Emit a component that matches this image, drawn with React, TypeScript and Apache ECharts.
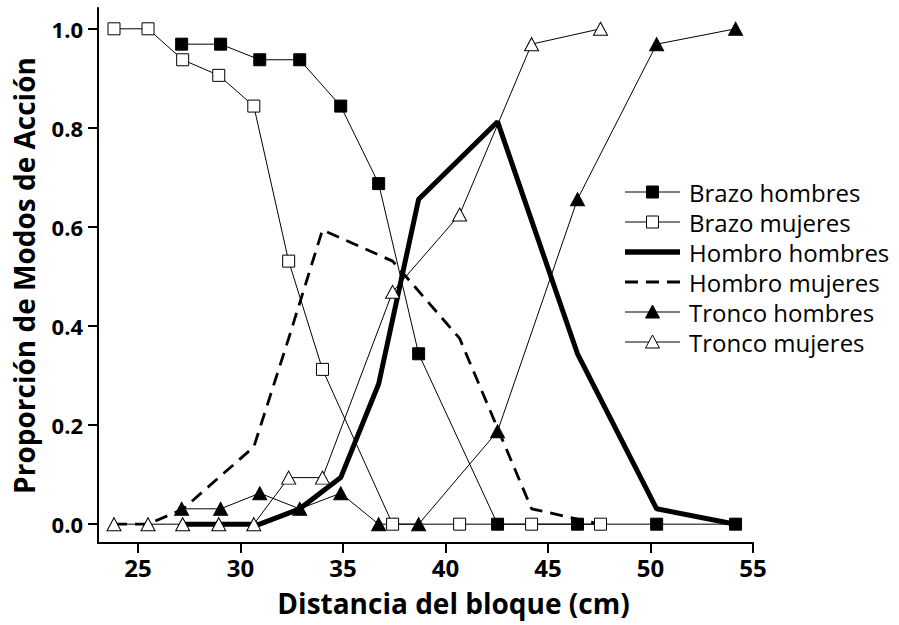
import React, { useEffect, useRef } from "react";
import * as echarts from "echarts";

const xHombres = [27.13, 29.03, 30.94, 32.89, 34.89, 36.74, 38.69, 42.54, 46.44, 50.3, 54.15];
const xMujeres = [23.83, 25.49, 27.18, 28.94, 30.65, 32.35, 34.0, 37.42, 40.69, 44.2, 47.56];

const brazoHombres = [0.969, 0.969, 0.9375, 0.9375, 0.844, 0.6875, 0.344, 0, 0, 0, 0];
const brazoMujeres = [1.0, 1.0, 0.9375, 0.906, 0.844, 0.531, 0.3125, 0, 0, 0, 0];
const hombroHombres = [0, 0, 0, 0.031, 0.094, 0.283, 0.656, 0.8125, 0.344, 0.031, 0];
const hombroMujeres = [0, 0, 0.03, 0.094, 0.156, 0.375, 0.594, 0.531, 0.375, 0.031, 0];
const troncoHombres = [0.031, 0.031, 0.0625, 0.031, 0.0625, 0, 0, 0.1875, 0.656, 0.969, 1.0];
const troncoMujeres = [0, 0, 0, 0, 0, 0.094, 0.094, 0.469, 0.625, 0.969, 1.0];

const seriesNames = [
  "Brazo hombres",
  "Brazo mujeres",
  "Hombro hombres",
  "Hombro mujeres",
  "Tronco hombres",
  "Tronco mujeres",
];

const xTitle = "Distancia del bloque (cm)";
const yTitle = "Proporción de Modos de Acción";

const xTicks = [25, 30, 35, 40, 45, 50, 55];
const yTicks = [0, 0.2, 0.4, 0.6, 0.8, 1.0];

const FONT = "'Open Sans', sans-serif";

function pairs(xs: number[], ys: number[]) {
  return xs.map((x, i) => [x, ys[i]]);
}

type Kind = "fsq" | "osq" | "thick" | "dash" | "ftri" | "otri";
const legendKinds: Kind[] = ["fsq", "osq", "thick", "dash", "ftri", "otri"];

function buildLegend() {
  const x1 = 625;
  const x2 = 680;
  const cx = 652.5;
  const top = 192;
  const gap = 30;
  const els: any[] = [];
  legendKinds.forEach((k, i) => {
    const y = top + i * gap;
    if (k === "thick") {
      els.push({ type: "line", shape: { x1, y1: y, x2, y2: y }, style: { stroke: "#000", lineWidth: 5.5 } });
    } else if (k === "dash") {
      els.push({
        type: "line",
        shape: { x1, y1: y, x2, y2: y },
        style: { stroke: "#000", lineWidth: 3, lineDash: [13, 8] },
      });
    } else {
      els.push({ type: "line", shape: { x1, y1: y, x2, y2: y }, style: { stroke: "#000", lineWidth: 1 } });
      const fill = k === "fsq" || k === "ftri" ? "#000" : "#fff";
      if (k === "fsq" || k === "osq") {
        els.push({
          type: "rect",
          shape: { x: cx - 6, y: y - 6, width: 12, height: 12 },
          style: { fill, stroke: "#000", lineWidth: 1 },
        });
      } else {
        els.push({
          type: "polygon",
          shape: { points: [[cx, y - 7], [cx - 7, y + 6], [cx + 7, y + 6]] },
          style: { fill, stroke: "#000", lineWidth: 1 },
        });
      }
    }
    els.push({
      type: "text",
      style: {
        text: seriesNames[i],
        x: 689,
        y,
        fontFamily: FONT,
        fontSize: 24,
        fill: "#000",
        verticalAlign: "middle",
        align: "left",
      },
    });
  });
  els.push({
    type: "text",
    style: {
      text: xTitle,
      x: 453.5,
      y: 603,
      fontFamily: FONT,
      fontSize: 28,
      fontWeight: "bold",
      fill: "#000",
      verticalAlign: "middle",
      align: "center",
    },
  });
  return els;
}

export default function App() {
  const ref = useRef<HTMLDivElement>(null);
  useEffect(() => {
    document.body.style.margin = "0";
    if (!ref.current) return;
    const chart = echarts.init(ref.current, undefined, { renderer: "svg" });
    const thin = { color: "#000", width: 1 };
    const filled = { color: "#000", borderColor: "#000", borderWidth: 1 };
    const open = { color: "#fff", borderColor: "#000", borderWidth: 1 };
    chart.setOption({
      animation: false,
      backgroundColor: "#fff",
      textStyle: { fontFamily: FONT },
      grid: { left: 98, right: 146, top: 8, bottom: 82 },
      graphic: buildLegend(),
      xAxis: {
        type: "value",
        min: 23.05,
        max: 55,
        axisLine: { show: true, onZero: false, lineStyle: { color: "#000", width: 2 } },
        axisTick: { show: true, customValues: xTicks, length: 10, lineStyle: { color: "#000", width: 2 } },
        axisLabel: {
          customValues: xTicks,
          fontFamily: FONT,
          fontSize: 24,
          fontWeight: "bold",
          color: "#000",
          margin: 12,
          formatter: (v: number) => String(v),
        },
        splitLine: { show: false },
      },
      yAxis: {
        type: "value",
        min: -0.038,
        max: 1.042,
        name: yTitle,
        nameLocation: "middle",
        nameGap: 60,
        nameTextStyle: { fontFamily: FONT, fontSize: 28, fontWeight: "bold", color: "#000" },
        axisLine: { show: true, onZero: false, lineStyle: { color: "#000", width: 2 } },
        axisTick: { show: true, customValues: yTicks, length: 10, lineStyle: { color: "#000", width: 2 } },
        axisLabel: {
          customValues: yTicks,
          fontFamily: FONT,
          fontSize: 22,
          fontWeight: "bold",
          color: "#000",
          margin: 15,
          formatter: (v: number) => v.toFixed(1),
        },
        splitLine: { show: false },
      },
      series: [
        {
          name: seriesNames[0],
          type: "line",
          data: pairs(xHombres, brazoHombres),
          symbol: "rect",
          symbolSize: 12,
          lineStyle: thin,
          itemStyle: filled,
        },
        {
          name: seriesNames[1],
          type: "line",
          data: pairs(xMujeres, brazoMujeres),
          symbol: "rect",
          symbolSize: 12,
          lineStyle: thin,
          itemStyle: open,
        },
        {
          name: seriesNames[2],
          type: "line",
          data: pairs(xHombres, hombroHombres),
          symbol: "none",
          lineStyle: { color: "#000", width: 5 },
          itemStyle: { color: "#000" },
        },
        {
          name: seriesNames[3],
          type: "line",
          data: pairs(xMujeres, hombroMujeres),
          symbol: "none",
          lineStyle: { color: "#000", width: 2.8, type: [13, 8] },
          itemStyle: { color: "#000" },
        },
        {
          name: seriesNames[4],
          type: "line",
          data: pairs(xHombres, troncoHombres),
          symbol: "triangle",
          symbolSize: [14, 13],
          lineStyle: thin,
          itemStyle: filled,
        },
        {
          name: seriesNames[5],
          type: "line",
          data: pairs(xMujeres, troncoMujeres),
          symbol: "triangle",
          symbolSize: [14, 13],
          lineStyle: thin,
          itemStyle: open,
        },
      ],
    });
    return () => chart.dispose();
  }, []);
  return <div ref={ref} style={{ width: 899, height: 625 }} />;
}
